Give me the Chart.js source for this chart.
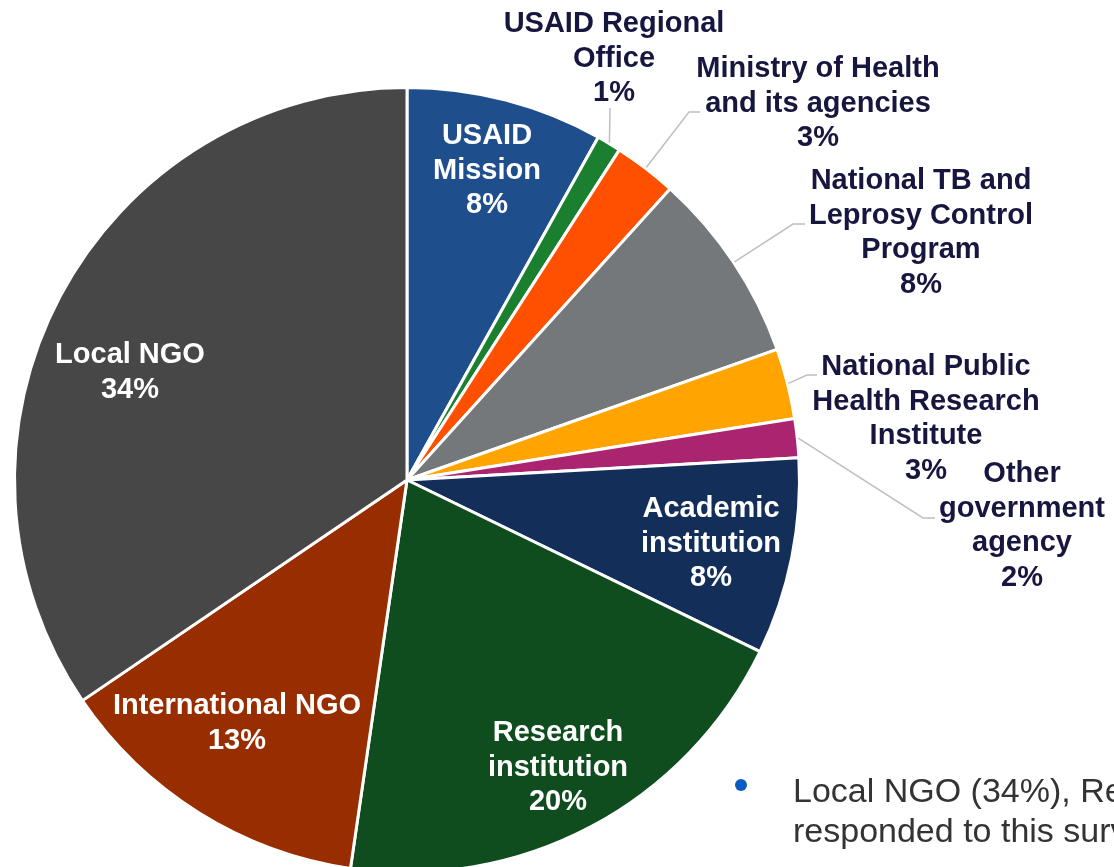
<!DOCTYPE html>
<html>
<head>
<meta charset="utf-8">
<script src="https://cdn.jsdelivr.net/npm/chart.js@4.4.1/dist/chart.umd.min.js"></script>
<style>
  html, body { margin: 0; padding: 0; background: #fff; overflow: hidden; width: 1114px; height: 867px; }
  #wrap { position: absolute; left: 0; top: 0; width: 1114px; height: 960px; }
  #note { position: absolute; left: 793px; top: 770px; font: 34px "Liberation Sans", Arial, sans-serif; color: #333; white-space: nowrap; line-height: 40px; }
  #dot { position: absolute; left: 735px; top: 779px; width: 12px; height: 12px; border-radius: 50%; background: #0b5cc2; }
</style>
</head>
<body>
<div id="wrap"><canvas id="pie" width="1114" height="960"></canvas></div>
<div id="dot"></div>
<div id="note">Local NGO (34%), Research institution (20%)<br>responded to this survey</div>
<script>
// survey respondents by organisation type (clockwise from 12 o'clock)
const categories = [
  "USAID Mission", "USAID Regional Office", "Ministry of Health and its agencies",
  "National TB and Leprosy Control Program", "National Public Health Research Institute",
  "Other government agency", "Academic institution", "Research institution",
  "International NGO", "Local NGO"
];
// slice sizes (percent)
const shares = [8.1, 1.0, 2.6, 7.9, 2.9, 1.6, 8.1, 20.1, 13.2, 34.5];
// percentages as printed on the chart
const pctLabels = ["8%", "1%", "3%", "8%", "3%", "2%", "8%", "20%", "13%", "34%"];
const labelLines = [
  ["USAID", "Mission"],
  ["USAID Regional", "Office"],
  ["Ministry of Health", "and its agencies"],
  ["National TB and", "Leprosy Control", "Program"],
  ["National Public", "Health Research", "Institute"],
  ["Other", "government", "agency"],
  ["Academic", "institution"],
  ["Research", "institution"],
  ["International NGO"],
  ["Local NGO"]
];

const colors = ["#1f4e8d", "#1a7f2e", "#ff5000", "#75787b", "#ffa400",
                "#ab2470", "#132f59", "#0f4d1f", "#982e00", "#474748"];

// label placement: x, y of first line; inside labels white, outside dark with leader
const labelPlace = [
  { x: 487, y: 136, inside: true },
  { x: 614, y: 24, lead: [[610, 108]] },
  { x: 818, y: 69, lead: [[689, 112], [700, 112]] },
  { x: 921, y: 181, lead: [[793, 224], [805, 224]] },
  { x: 926, y: 367, lead: [[807, 375], [817, 375]] },
  { x: 1022, y: 474, lead: [[923, 518], [935, 518]] },
  { x: 711, y: 509, inside: true },
  { x: 558, y: 733, inside: true },
  { x: 237, y: 706, inside: true },
  { x: 130, y: 355, inside: true }
];
const lineH = 34.5;

const labelPlugin = {
  id: "sliceLabels",
  afterDraw(chart) {
    const ctx = chart.ctx;
    const arcs = chart.getDatasetMeta(0).data;
    ctx.save();
    ctx.font = "bold 29px 'Liberation Sans', Arial, sans-serif";
    ctx.textAlign = "center";
    ctx.textBaseline = "middle";
    arcs.forEach((arc, i) => {
      const p = labelPlace[i];
      if (p.lead) {
        const mid = (arc.startAngle + arc.endAngle) / 2;
        const r = arc.outerRadius + 1;
        ctx.strokeStyle = "#bfbfbf";
        ctx.lineWidth = 1.5;
        ctx.beginPath();
        ctx.moveTo(arc.x + Math.cos(mid) * r, arc.y + Math.sin(mid) * r);
        p.lead.forEach(pt => ctx.lineTo(pt[0], pt[1]));
        ctx.stroke();
      }
      ctx.fillStyle = p.inside ? "#ffffff" : "#16163f";
      const lines = labelLines[i].concat([pctLabels[i]]);
      lines.forEach((t, k) => ctx.fillText(t, p.x, p.y + k * lineH));
    });
    ctx.restore();
  }
};

new Chart(document.getElementById("pie"), {
  type: "pie",
  data: {
    labels: categories,
    datasets: [{
      data: shares,
      backgroundColor: colors,
      borderColor: "#ffffff",
      borderWidth: 3,
      hoverOffset: 0
    }]
  },
  options: {
    responsive: false,
    animation: false,
    layout: { padding: { left: 13, top: 86, right: 313, bottom: 86 } },
    plugins: { legend: { display: false }, tooltip: { enabled: false } }
  },
  plugins: [labelPlugin]
});
</script>
</body>
</html>
